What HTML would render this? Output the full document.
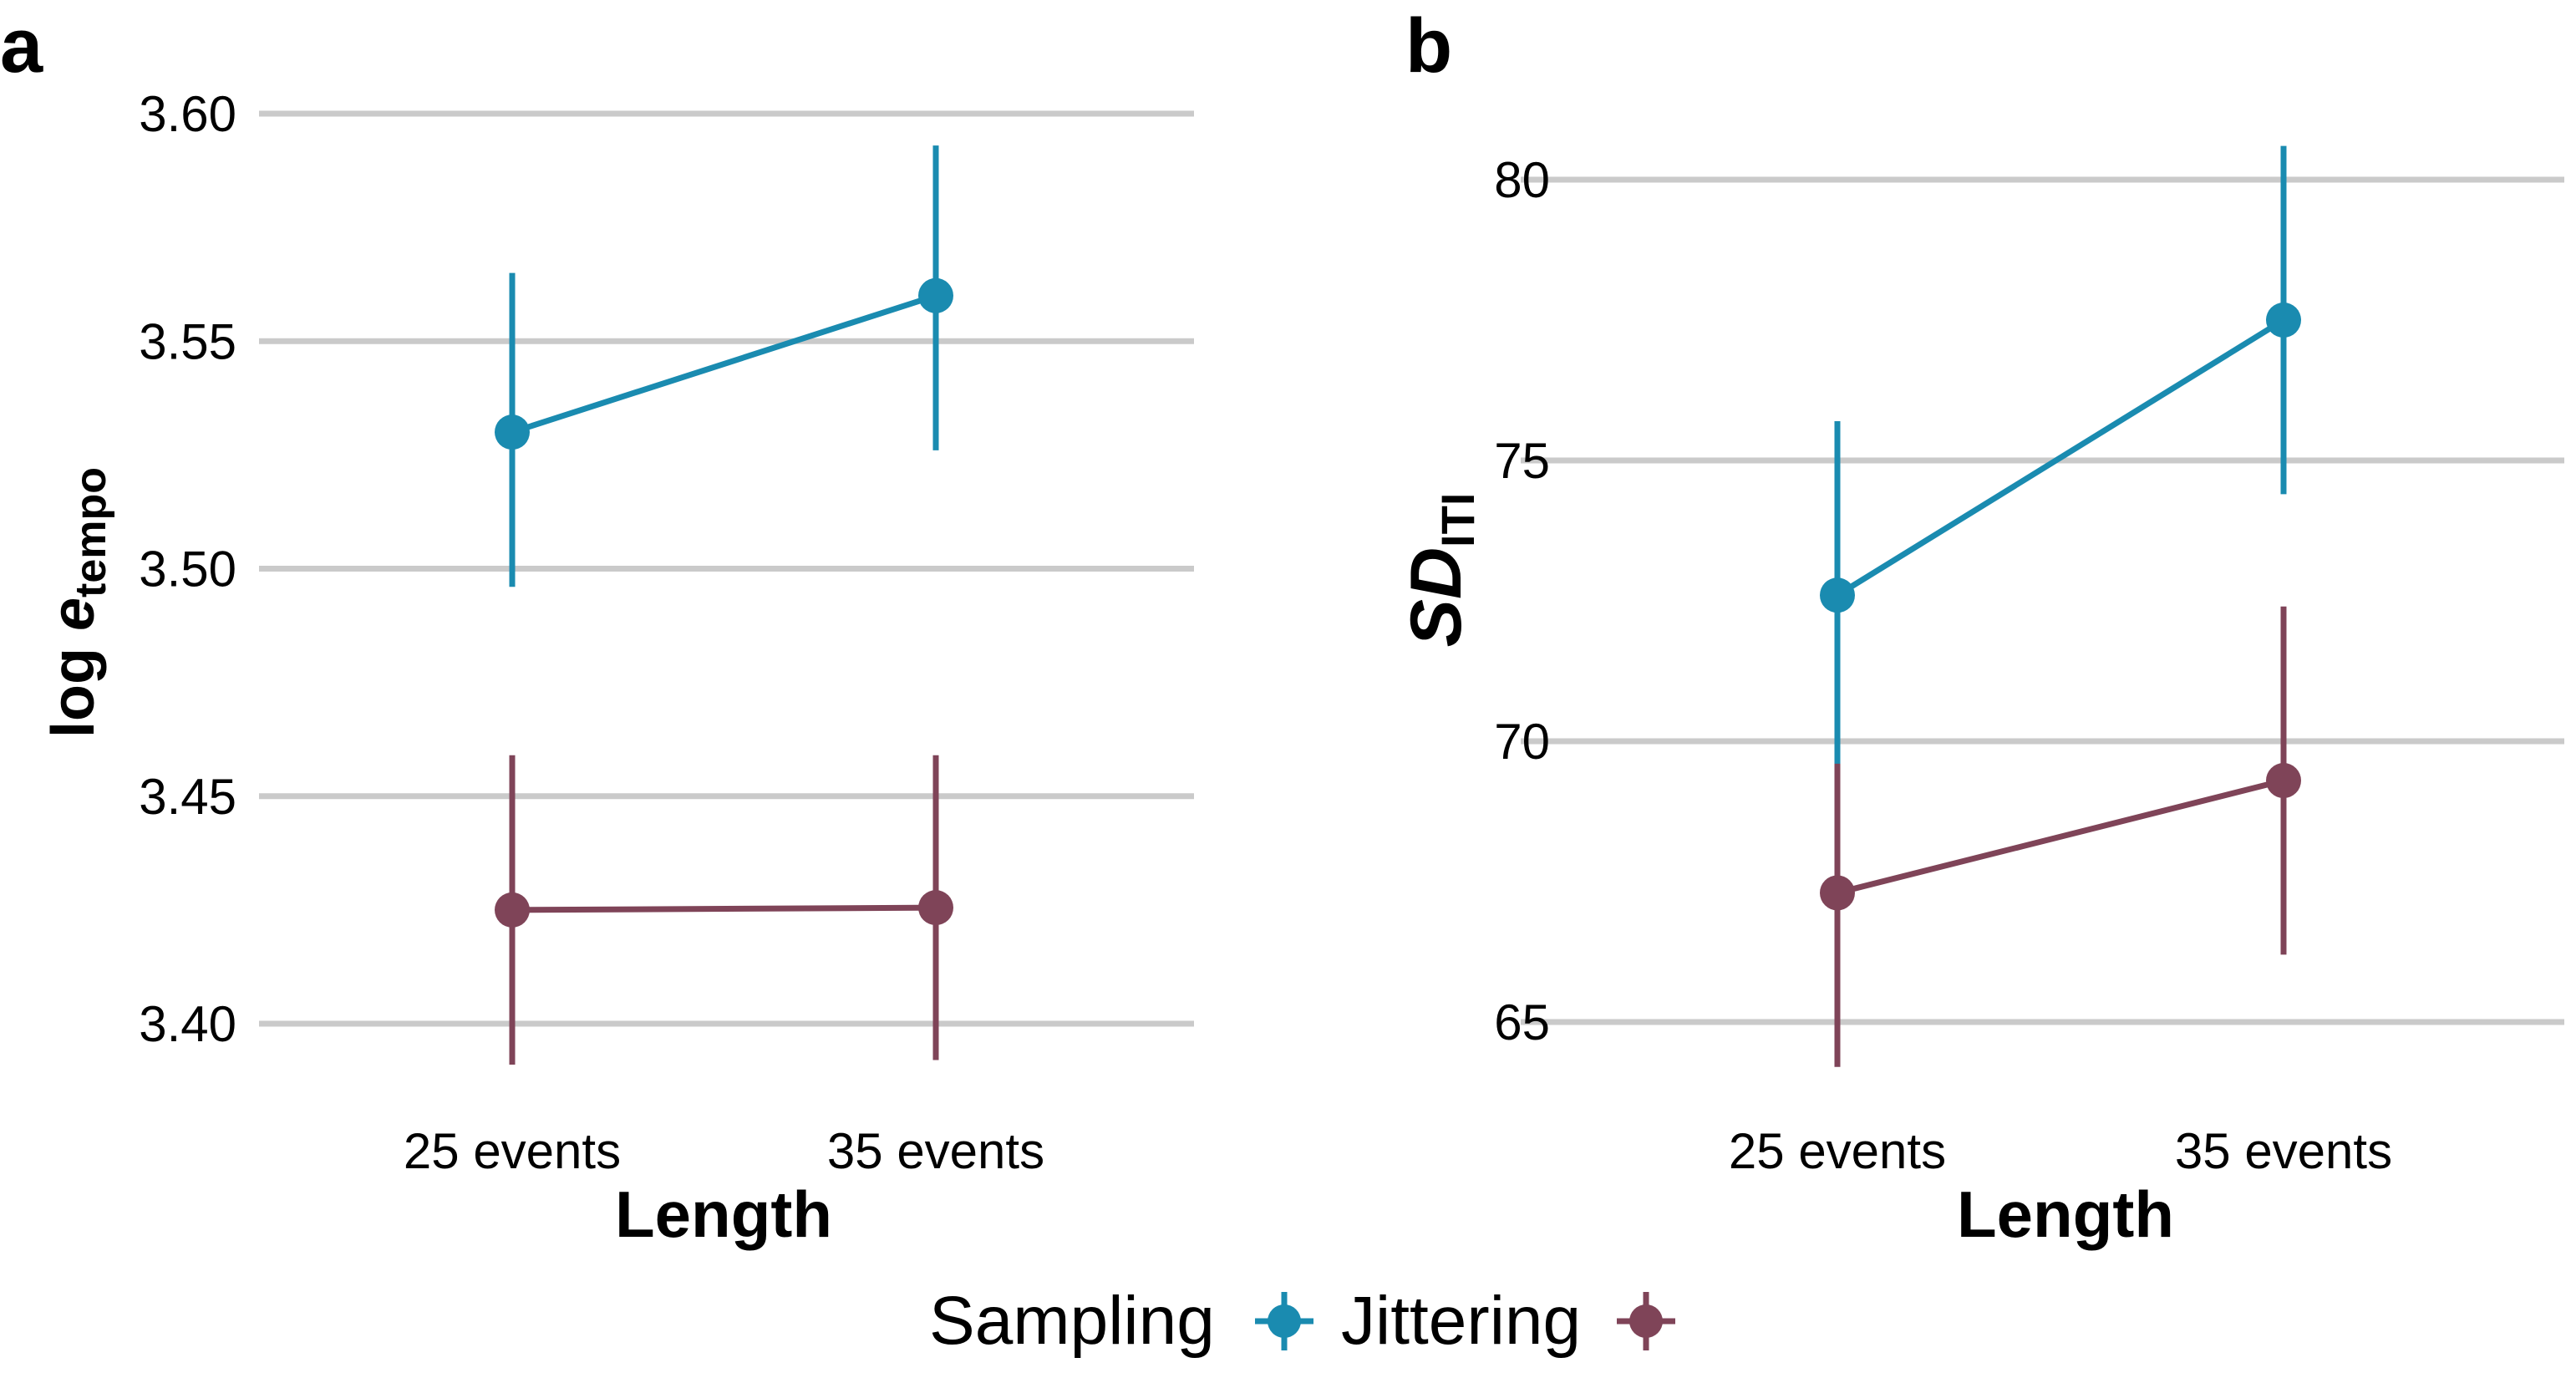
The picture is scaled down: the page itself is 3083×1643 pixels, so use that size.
<!DOCTYPE html>
<html><head><meta charset="utf-8"><style>
html,body{margin:0;padding:0;background:#fff;}
svg{display:block;font-family:"Liberation Sans",sans-serif;}
</style></head><body>
<svg id="chart" width="3083" height="1643" viewBox="0 0 3083 1643" xmlns="http://www.w3.org/2000/svg">
<text x="0" y="86" font-size="92" font-weight="bold">a</text>
<text x="1682" y="86" font-size="92" font-weight="bold">b</text>
<g id="pa"></g>
<g id="pb"></g>
<text transform="translate(112,721) rotate(-90)" text-anchor="middle" font-size="72" font-weight="bold">log <tspan font-style="italic">e</tspan><tspan font-size="52" dy="14">tempo</tspan></text>
<text transform="translate(1748,682) rotate(-90)" text-anchor="middle" font-size="86" font-weight="bold" font-style="italic">SD<tspan font-size="56" font-style="normal" dy="16">ITI</tspan></text>
<text x="866" y="1480" text-anchor="middle" font-size="78" font-weight="bold">Length</text>
<text x="2472" y="1480" text-anchor="middle" font-size="78" font-weight="bold">Length</text>
<g>
<text x="1112" y="1608" font-size="82">Sampling</text>
<g>
<line x1="1502" y1="1581" x2="1572" y2="1581" stroke="#1a8bb0" stroke-width="7"/>
<line x1="1537" y1="1546" x2="1537" y2="1616" stroke="#1a8bb0" stroke-width="7"/>
<circle cx="1537" cy="1581" r="20" fill="#1a8bb0"/>
</g>
<text x="1605" y="1608" font-size="82">Jittering</text>
<g>
<line x1="1935" y1="1581" x2="2005" y2="1581" stroke="#7f4458" stroke-width="7"/>
<line x1="1970" y1="1546" x2="1970" y2="1616" stroke="#7f4458" stroke-width="7"/>
<circle cx="1970" cy="1581" r="20" fill="#7f4458"/>
</g>
</g>
</svg>
<script>
const categories = ["25 events", "35 events"];
const aTicks = [3.40, 3.45, 3.50, 3.55, 3.60];
const aTickLabels = ["3.40", "3.45", "3.50", "3.55", "3.60"];
const aJitMean = [3.530, 3.560];
const aJitLo = [3.496, 3.526];
const aJitHi = [3.565, 3.593];
const aSampMean = [3.425, 3.4255];
const aSampLo = [3.391, 3.392];
const aSampHi = [3.459, 3.459];
const bTicks = [65, 70, 75, 80];
const bTickLabels = ["65", "70", "75", "80"];
const bJitMean = [72.6, 77.5];
const bJitLo = [69.6, 74.4];
const bJitHi = [75.7, 80.6];
const bSampMean = [67.3, 69.3];
const bSampLo = [64.2, 66.2];
const bSampHi = [70.4, 72.4];

const NS = "http://www.w3.org/2000/svg";
function mk(parent, tag, attrs){const e=document.createElementNS(NS,tag);for(const k in attrs)e.setAttribute(k,attrs[k]);parent.appendChild(e);return e;}
function panel(g, cfg){
  const y = v => cfg.y0 + (v - cfg.v0) * (cfg.y1 - cfg.y0) / (cfg.v1 - cfg.v0);
  const x = i => cfg.xc[0] + i * (cfg.xc[1] - cfg.xc[0]);
  cfg.ticks.forEach((t,i)=>{
    const l = mk(g,'line',{x1:cfg.gx0,x2:cfg.gx1,y1:y(t),y2:y(t),stroke:'#cacaca','stroke-width':7});
    
    
    const tx = mk(g,'text',{x:cfg.lx,y:y(t)+21,'text-anchor':'end','font-size':60});
    tx.textContent = cfg.labels[i];
    
    
  });
  categories.forEach((c,i)=>{
    const tx = mk(g,'text',{x:x(i),y:1398,'text-anchor':'middle','font-size':60});
    tx.textContent = c;
    
    
  });
  const series = [
    {n:'sampling',m:cfg.sm,lo:cfg.sl,hi:cfg.sh,c:'#7f4458'},
    {n:'jittering',m:cfg.jm,lo:cfg.jl,hi:cfg.jh,c:'#1a8bb0'}
  ];
  series.forEach(s=>{
    const ln = mk(g,'line',{x1:x(0),y1:y(s.m[0]),x2:x(1),y2:y(s.m[1]),stroke:s.c,'stroke-width':7});
    
    
    s.m.forEach((v,i)=>{
      const eb = mk(g,'line',{x1:x(i),x2:x(i),y1:y(s.lo[i]),y2:y(s.hi[i]),stroke:s.c,'stroke-width':7});
      
      
      const p = mk(g,'circle',{cx:x(i),cy:y(v),r:21,fill:s.c});
      
      
    });
  });
}
panel(document.getElementById('pa'),{v0:3.60,v1:3.40,y0:136,y1:1225,gx0:310,gx1:1429,lx:283,xc:[613,1120],
  ticks:aTicks,labels:aTickLabels,jm:aJitMean,jl:aJitLo,jh:aJitHi,sm:aSampMean,sl:aSampLo,sh:aSampHi});
panel(document.getElementById('pb'),{v0:80,v1:65,y0:215,y1:1223,gx0:1820,gx1:3069,lx:1855,xc:[2199,2733],
  ticks:bTicks,labels:bTickLabels,jm:bJitMean,jl:bJitLo,jh:bJitHi,sm:bSampMean,sl:bSampLo,sh:bSampHi});
</script>
</body></html>
